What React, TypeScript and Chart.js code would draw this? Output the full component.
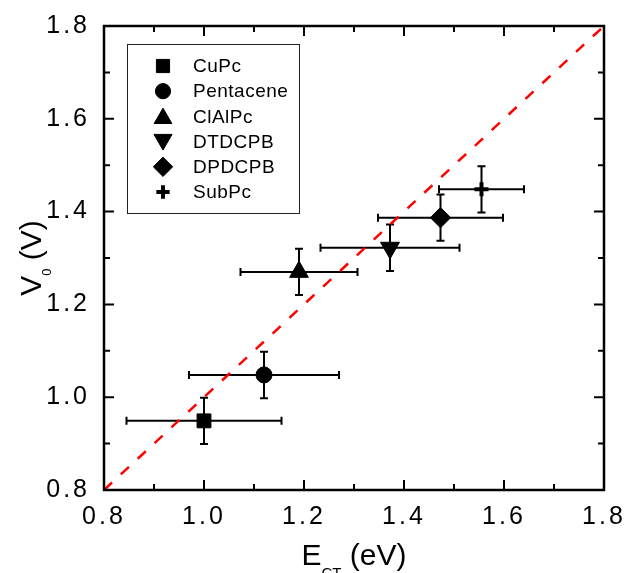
import React, { useEffect, useRef } from 'react';
import { Chart, registerables } from 'chart.js';
import * as helpers from 'chart.js/helpers';

Chart.register(...registerables);

// ---- data ----
const materials = ['CuPc', 'Pentacene', 'ClAlPc', 'DTDCPB', 'DPDCPB', 'SubPc'];
const ectValues = [1.0, 1.12, 1.19, 1.372, 1.473, 1.555];
const v0Values = [0.949, 1.048, 1.27, 1.322, 1.387, 1.448];
const ectErrors = [0.155, 0.15, 0.117, 0.139, 0.125, 0.085];
const v0Errors = [0.05, 0.05, 0.05, 0.05, 0.05, 0.05];
const pointStyles = ['rect', 'circle', 'triangle', 'triangle', 'rectRot', 'cross'];
const pointRotations = [0, 0, 0, 180, 0, 0];
const pointRadii = [9.8, 8, 10.8, 11, 10.2, 7];
const guideX = [0.8, 1.8];
const guideY = [0.8, 1.8];
const axisMin = 0.8;
const axisMax = 1.8;
const majorStep = 0.2;
const minorStep = 0.1;

const FONT = "'Liberation Sans', Arial, Helvetica, sans-serif";

const decorPlugin = {
  id: 'decor',
  beforeDraw(chart: any) {
    chart.ctx.letterSpacing = '3px';
  },
  beforeDatasetsDraw(chart: any) {
    const ctx = chart.ctx;
    ctx.letterSpacing = '0px';
    const x = chart.scales.x;
    const y = chart.scales.y;
    ctx.save();
    ctx.strokeStyle = '#000';
    ctx.lineWidth = 2;
    const cap = 4;
    materials.forEach((_, i) => {
      const px = x.getPixelForValue(ectValues[i]);
      const py = y.getPixelForValue(v0Values[i]);
      const xl = x.getPixelForValue(ectValues[i] - ectErrors[i]);
      const xr = x.getPixelForValue(ectValues[i] + ectErrors[i]);
      const yt = y.getPixelForValue(v0Values[i] + v0Errors[i]);
      const yb = y.getPixelForValue(v0Values[i] - v0Errors[i]);
      ctx.beginPath();
      ctx.moveTo(xl, py); ctx.lineTo(xr, py);
      ctx.moveTo(xl, py - cap); ctx.lineTo(xl, py + cap);
      ctx.moveTo(xr, py - cap); ctx.lineTo(xr, py + cap);
      ctx.moveTo(px, yt); ctx.lineTo(px, yb);
      ctx.moveTo(px - cap, yt); ctx.lineTo(px + cap, yt);
      ctx.moveTo(px - cap, yb); ctx.lineTo(px + cap, yb);
      ctx.stroke();
    });
    ctx.restore();
  },
  afterDraw(chart: any) {
    const ctx = chart.ctx;
    ctx.letterSpacing = '0px';
    const { left, right, top, bottom } = chart.chartArea;
    const x = chart.scales.x;
    const y = chart.scales.y;
    ctx.save();
    // frame
    ctx.strokeStyle = '#000';
    ctx.lineWidth = 2.5;
    ctx.strokeRect(left, top, right - left, bottom - top);
    // inward ticks on all four sides
    ctx.lineWidth = 2;
    const n = Math.round((axisMax - axisMin) / minorStep);
    ctx.beginPath();
    for (let k = 0; k <= n; k++) {
      const v = axisMin + k * minorStep;
      const major = Math.abs(((v - axisMin) / majorStep) - Math.round((v - axisMin) / majorStep)) < 1e-6;
      const len = major ? 10 : 6;
      const px = x.getPixelForValue(v);
      const py = y.getPixelForValue(v);
      ctx.moveTo(px, bottom); ctx.lineTo(px, bottom - len);
      ctx.moveTo(px, top); ctx.lineTo(px, top + len);
      ctx.moveTo(left, py); ctx.lineTo(left + len, py);
      ctx.moveTo(right, py); ctx.lineTo(right - len, py);
    }
    ctx.stroke();

    // legend
    const bx = left + 23;
    const by = top + 18;
    const bw = 172;
    const bh = 169;
    ctx.lineWidth = 1;
    ctx.strokeStyle = '#222';
    ctx.strokeRect(bx + 0.5, by + 0.5, bw, bh);
    ctx.font = `19px ${FONT}`;
    ctx.textBaseline = 'middle';
    ctx.textAlign = 'left';
    ctx.letterSpacing = '0.5px';
    materials.forEach((name, i) => {
      const ry = by + 22 + i * 25.2;
      ctx.fillStyle = '#000';
      ctx.strokeStyle = '#000';
      const bwid = pointStyles[i] === 'cross' ? 4 : 1;
      ctx.lineWidth = bwid;
      helpers.drawPoint(ctx, {
        pointStyle: pointStyles[i],
        radius: pointRadii[i] * 0.95,
        rotation: pointRotations[i],
        borderWidth: bwid,
      } as any, bx + 36, ry + (i === 2 ? 2 : i === 3 ? -2 : 0));
      ctx.fillStyle = '#000';
      ctx.fillText(name, bx + 66, ry + 1);
    });
    ctx.letterSpacing = '0px';

    // x title: E_CT (eV)
    const mainFont = `30px ${FONT}`;
    const subFontX = `15px ${FONT}`;
    ctx.fillStyle = '#000';
    ctx.textBaseline = 'alphabetic';
    ctx.font = mainFont;
    const wE = ctx.measureText('E').width;
    const wRest = ctx.measureText(' (eV)').width;
    ctx.font = subFontX;
    const wCT = ctx.measureText('CT').width;
    const cx = (left + right) / 2;
    let sx = cx - (wE + wCT + wRest) / 2;
    const baseX = bottom + 75;
    ctx.font = mainFont;
    ctx.fillText('E', sx, baseX);
    sx += wE;
    ctx.font = subFontX;
    ctx.fillText('CT', sx, baseX + 12.5);
    sx += wCT;
    ctx.font = mainFont;
    ctx.fillText(' (eV)', sx, baseX);

    // y title: V_0 (V)
    const subFontY = `13px ${FONT}`;
    ctx.font = mainFont;
    const wV = ctx.measureText('V').width;
    const wRestY = ctx.measureText(' (V)').width;
    ctx.font = subFontY;
    const w0 = ctx.measureText('0').width;
    const cy = (top + bottom) / 2;
    ctx.translate(41, cy);
    ctx.rotate(-Math.PI / 2);
    let sy = -(wV + w0 + wRestY) / 2;
    ctx.font = mainFont;
    ctx.fillText('V', sy, 0);
    sy += wV;
    ctx.font = subFontY;
    ctx.fillText('0', sy, 9.5);
    sy += w0;
    ctx.font = mainFont;
    ctx.fillText(' (V)', sy, 0);
    ctx.restore();
  },
};

export default function App() {
  const canvasRef = useRef<HTMLCanvasElement | null>(null);

  useEffect(() => {
    if (!canvasRef.current) return;
    Chart.defaults.font.family = FONT;
    const markerDatasets = materials.map((name, i) => ({
      type: 'scatter' as const,
      label: name,
      data: [{ x: ectValues[i], y: v0Values[i] }],
      pointStyle: pointStyles[i],
      pointRotation: pointRotations[i],
      pointRadius: pointRadii[i],
      pointBackgroundColor: '#000',
      pointBorderColor: '#000',
      pointBorderWidth: pointStyles[i] === 'cross' ? 4 : 1,
      showLine: false,
    }));
    const guideDataset = {
      type: 'line' as const,
      label: 'y = x',
      data: guideX.map((v, i) => ({ x: v, y: guideY[i] })),
      borderColor: '#ff0000',
      borderWidth: 2.5,
      borderDash: [11, 12],
      pointRadius: 0,
      fill: false,
      tension: 0,
    };
    const tickFont = { size: 25, family: FONT };
    const chart = new Chart(canvasRef.current, {
      type: 'scatter',
      data: { datasets: [...markerDatasets, guideDataset] as any },
      options: {
        animation: false,
        responsive: false,
        devicePixelRatio: 1,
        events: [],
        layout: { padding: { top: 26, right: 24, left: 0, bottom: 0 } },
        plugins: { legend: { display: false }, tooltip: { enabled: false } },
        scales: {
          x: {
            type: 'linear',
            min: axisMin,
            max: axisMax,
            grid: { display: false },
            border: { display: false },
            ticks: {
              stepSize: majorStep,
              color: '#000',
              font: tickFont,
              padding: 4,
              maxRotation: 0,
              callback: (v: any) => Number(v).toFixed(1),
            },
            afterFit: (s: any) => { s.height = 83; },
          },
          y: {
            type: 'linear',
            min: axisMin,
            max: axisMax,
            grid: { display: false },
            border: { display: false },
            ticks: {
              stepSize: majorStep,
              color: '#000',
              font: tickFont,
              padding: 6,
              callback: (v: any) => Number(v).toFixed(1),
            },
            afterFit: (s: any) => { s.width = 104; },
          },
        },
      } as any,
      plugins: [decorPlugin],
    });
    return () => chart.destroy();
  }, []);

  return (
    <div style={{ position: 'absolute', left: 0, top: 0, width: 628, height: 573, background: '#fff' }}>
      <canvas ref={canvasRef} width={628} height={573} style={{ display: 'block' }} />
    </div>
  );
}
